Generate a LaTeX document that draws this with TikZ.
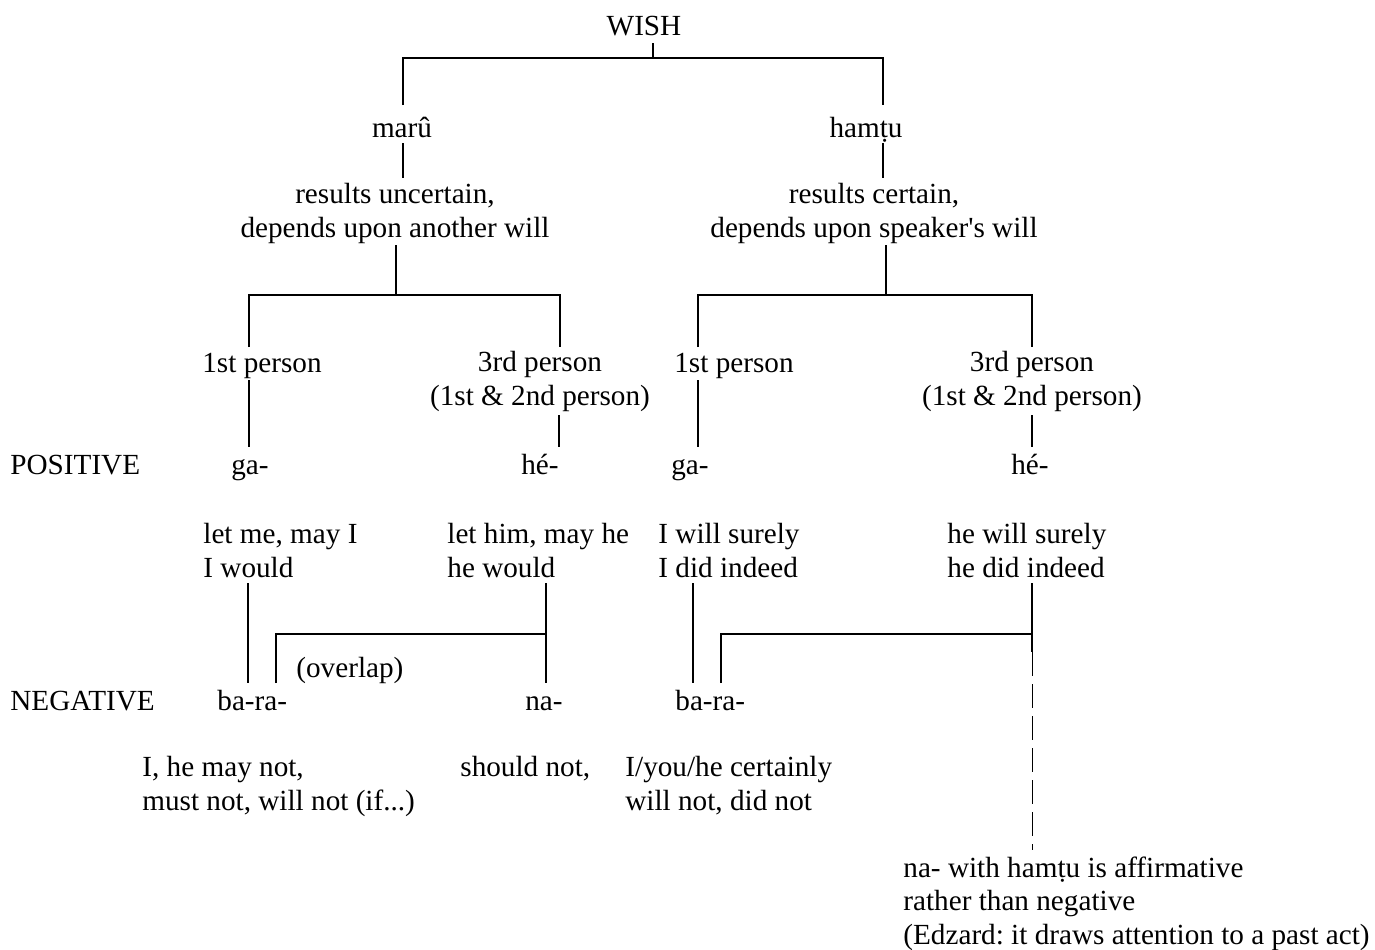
\documentclass[tikz,border=0pt]{standalone}
\usepackage{fontspec}
\setmainfont{Liberation Serif}[Ligatures=TeXOff]
\usetikzlibrary{positioning}
\frenchspacing

\begin{document}
\begin{tikzpicture}[
    x=0.5pt, y=-0.5pt,
    every node/.style={inner sep=0pt, font=\fontsize{14.6}{16.75}\selectfont},
    txt/.style={anchor=base},
    txtl/.style={anchor=base west, align=left},
    txtc/.style={anchor=base, align=center},
    br/.style={line width=1pt},
    thin dash/.style={line width=0.5pt, dash pattern=on 12pt off 4pt}
  ]
  \useasboundingbox (0,0) rectangle (1375,949);

  % Nodos (multi-line nodes sit on their last baseline)
  \node[txt] (wish) at (644,35) {WISH};
  \node[txt] (maru) at (402,137) {marû};
  \node[txt] (hamtu) at (866,137) {hamṭu};
  \node[txtc] (uncert) at (395,237) {results uncertain,\\depends upon another will};
  \node[txtc] (cert) at (874,237) {results certain,\\depends upon speaker's will};

  \node[txt] (first1) at (262,372) {1st person};
  \node[txtc] (third1) at (540,405) {3rd person\\(1st \& 2nd person)};
  \node[txt] (first2) at (734,372) {1st person};
  \node[txtc] (third2) at (1032,405) {3rd person\\(1st \& 2nd person)};

  \node[txtl] (pos) at (10,474) {POSITIVE};
  \node[txt] (ga1) at (250,474) {ga-};
  \node[txt] (he1) at (540,474) {hé-};
  \node[txt] (ga2) at (690,474) {ga-};
  \node[txt] (he2) at (1030,474) {hé-};

  \node[txtl] (mean1) at (203,577) {let me, may I\\I would};
  \node[txtl] (mean2) at (447,577) {let him, may he\\he would};
  \node[txtl] (mean3) at (658,577) {I will surely\\I did indeed};
  \node[txtl] (mean4) at (947,577) {he will surely\\he did indeed};

  \node[txtl] (overlap) at (296,677) {(overlap)};
  \node[txtl] (neg) at (10,710) {NEGATIVE};
  \node[txtl] (bara1) at (217,710) {ba-ra-};
  \node[txt] (na) at (544,710) {na-};
  \node[txtl] (bara2) at (675,710) {ba-ra-};

  \node[txtl] (not1) at (142,810) {I, he may not,\\must not, will not (if...)};
  \node[txtl] (not2) at (460,776) {should not,};
  \node[txtl] (not3) at (625,810) {I/you/he certainly\\will not, did not};
  \node[txtl] (note) at (903,944) {na- with hamṭu is affirmative\\rather than negative\\(Edzard: it draws attention to a past act)};

  % Ramas
  \draw[br] ([shift={(9,8)}]wish.base) -- ++(0,15) coordinate (wishJ);
  \draw[br] ([shift={(1,-32)}]maru.base) |- (wishJ) -| ([shift={(17,-32)}]hamtu.base);
  \draw[br] ([shift={(1,6)}]maru.base) -- ++(0,35);
  \draw[br] ([shift={(17,6)}]hamtu.base) -- ++(0,35);

  \draw[br] ([shift={(1,8)}]uncert.base) -- ++(0,50) coordinate (uncJ);
  \draw[br] ([shift={(-13,-25)}]first1.base) |- (uncJ) -| ([shift={(20,-58)}]third1.base);
  \draw[br] ([shift={(12,8)}]cert.base) -- ++(0,50) coordinate (certJ);
  \draw[br] ([shift={(-36,-25)}]first2.base) |- (certJ) -| ([shift={(0,-58)}]third2.base);

  \draw[br] ([shift={(-13,8)}]first1.base) -- ([shift={(-1,-27)}]ga1.base);
  \draw[br] ([shift={(19,10)}]third1.base) -- ([shift={(19,-27)}]he1.base);
  \draw[br] ([shift={(-36,8)}]first2.base) -- ([shift={(8,-27)}]ga2.base);
  \draw[br] ([shift={(0,10)}]third2.base) -- ([shift={(2,-27)}]he2.base);

  \draw[br] ([shift={(45,6)}]mean1.base west) -- ([shift={(31,-27)}]bara1.base west);
  \draw[br] ([shift={(99,6)}]mean2.base west) -- ([shift={(2,-27)}]na.base);
  \draw[br] ([shift={(59,-27)}]bara1.base west) |- ([shift={(2,-76)}]na.base);
  \draw[br] ([shift={(35,6)}]mean3.base west) -- ([shift={(18,-27)}]bara2.base west);
  \draw[br] ([shift={(85,6)}]mean4.base west) -- ++(0,69) coordinate (dashTop);
  \draw[br] ([shift={(46,-27)}]bara2.base west) |- ([shift={(85,57)}]mean4.base west);
  \draw[thin dash] (dashTop) -- ([shift={(129,-94)}]note.base west);
\end{tikzpicture}
\end{document}
